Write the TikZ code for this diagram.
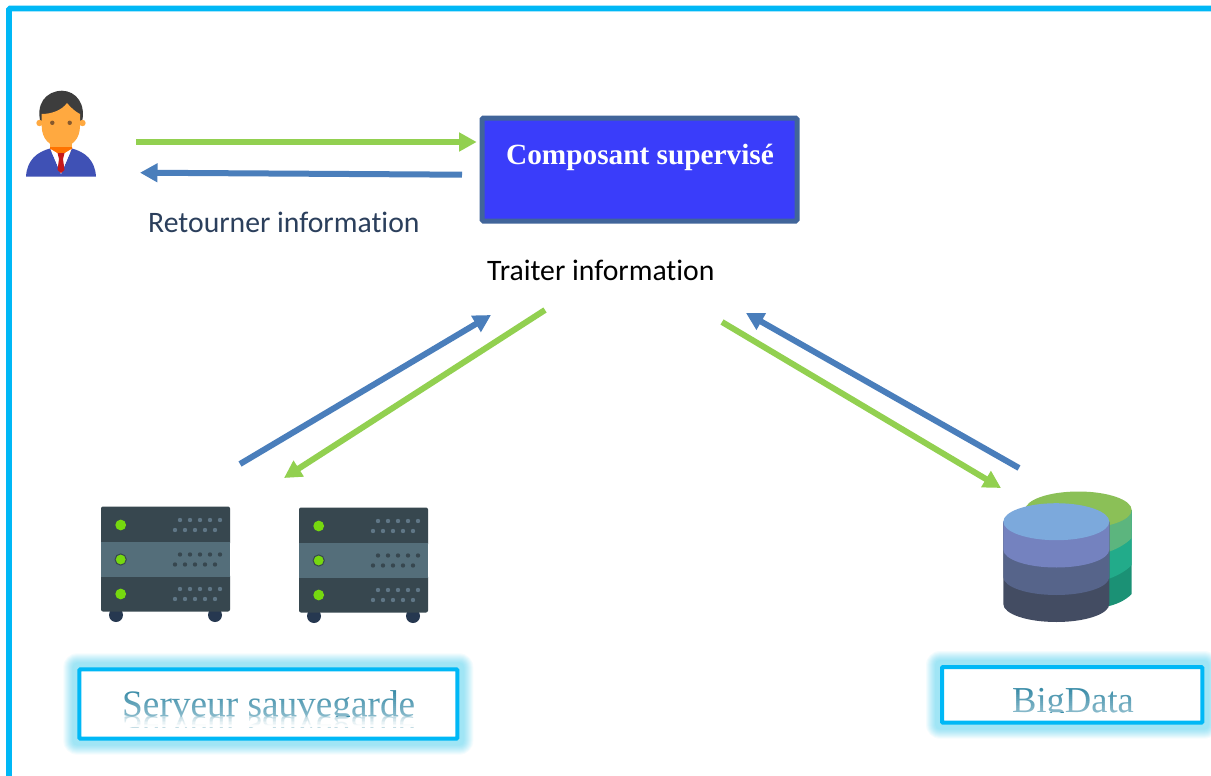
\documentclass[tikz,border=0pt]{standalone}
\usepackage{fontspec}
\setmainfont{Liberation Serif}
\newfontfamily\labelfont[RawFeature={-liga}]{Carlito}
\usetikzlibrary{arrows.meta}
\definecolor{framecyan}{HTML}{00B8F6}
\definecolor{glowcyan}{HTML}{00C0F4}
\definecolor{arrgreen}{HTML}{92D050}
\definecolor{arrblue}{HTML}{4A7EBB}
\definecolor{srvdark}{HTML}{37474F}
\definecolor{srvmid}{HTML}{546E7A}
\definecolor{srvdot}{HTML}{5F7686}
\definecolor{srvfoot}{HTML}{263850}
\definecolor{ledgreen}{HTML}{76D80F}
\definecolor{wordteal}{HTML}{3A8CA8}
\tikzset{
  x=1pt,y=-1pt,
  flow/.style={line width=6pt,-{Triangle[length=17.5pt,width=18pt]}},
  greenflow/.style={flow,draw=arrgreen},
  blueflow/.style={flow,draw=arrblue},
  tagbox/.style={draw=framecyan,line width=4pt,fill=white,inner sep=0pt,outer sep=0pt,anchor=north west,rounded corners=1pt},
  tagword/.style={anchor=base west,inner sep=0pt,text=wordteal},
  caption/.style={anchor=base west,inner sep=0pt,font=\labelfont\fontsize{29.7}{32}\selectfont},
}
\newcommand{\glowbox}[4]{%
  \foreach \g in {14,13,...,5}
    \fill[glowcyan,opacity=0.042,rounded corners=\g pt] (#1-\g,#2-\g) rectangle (#3+\g,#4+\g);
}
\newcommand{\fadeover}[6]{%
  \foreach \s in {0,1,...,#5}
    \fill[white,opacity={#6*\s/#5}] (#1,{#2+(#4-#2)*\s/(#5+1)}) rectangle (#3,{#2+(#4-#2)*(\s+1)/(#5+1)});
}
\newcommand{\dotrows}[3]{%
  \foreach \d in {0,1,2,3,4} {
    \fill[#3] (180+10*\d,#1) circle (2.2);
    \fill[#3] (175+10*\d,#2) circle (2.2);
  }
}
\newcommand{\rack}[2]{%
  \begin{scope}[shift={(#1,#2)}]
    \fill[srvfoot] (116,615) circle (7);
    \fill[srvfoot] (215,615) circle (7);
    \fill[srvdark,rounded corners=2pt] (101,506.5) rectangle (230,545);
    \fill[srvdark,rounded corners=2pt] (101,574) rectangle (230,611.5);
    \fill[srvmid] (101,542) rectangle (230,577);
    \fill[ledgreen] (120.7,525) circle (5.4);
    \fill[ledgreen,draw=srvdark,line width=1pt] (120.7,559.5) circle (5.6);
    \fill[ledgreen] (120.7,594) circle (5.4);
    \dotrows{520}{530}{srvdot}
    \dotrows{554.5}{564.5}{srvdark}
    \dotrows{589}{599}{srvdot}
  \end{scope}
}
\definecolor{skin}{HTML}{FFA940}
\definecolor{suit}{HTML}{3F51B5}
\definecolor{dbga}{HTML}{8BC057}
\definecolor{dbgb}{HTML}{5CB57E}
\definecolor{dbgc}{HTML}{22AB8A}
\definecolor{dbgd}{HTML}{1B9175}
\definecolor{dbba}{HTML}{7CA9DC}
\definecolor{dbbb}{HTML}{7482BF}
\definecolor{dbbc}{HTML}{56648A}
\definecolor{dbbd}{HTML}{434C62}
\begin{document}
\begin{tikzpicture}
\useasboundingbox (0,0) rectangle (1211,776);
\fill[white] (0,0) rectangle (1211,776);
% outer frame
\draw[framecyan,line width=5.6pt,rounded corners=1pt] (9,776) -- (9,8.5) -- (1211,8.5);

% person
\fill[black!76] (41,124) .. controls (35,104) and (46,91) .. (62,90.7) .. controls (76,91) and (87,104) .. (81.5,124) -- cycle;
\fill[skin] (39.5,123) circle (3.2);
\fill[skin] (82.5,123) circle (3.2);
\fill[skin] (50,140) rectangle (72,152);
\fill[skin] (41.7,114) .. controls (52,114) and (62,110) .. (67,103) .. controls (71,108) and (76,112) .. (80,114)
  -- (80,126) .. controls (80,139) and (72,147) .. (61,147) .. controls (50,147) and (41.7,139) .. (41.7,126) -- cycle;
\fill[brown!70!black] (52.3,122.8) circle (2.2);
\fill[brown!70!black] (69.7,122.8) circle (2.2);
\fill[orange!90!red] (50,147) -- (72,147) -- (72,150) -- (61,157) -- (50,150) -- cycle;
\fill[suit] (26,176.6) .. controls (27,160) and (37,152) .. (50,148.5) -- (61,174) -- (72,148.5)
  .. controls (85,152) and (95,160) .. (96,176.6) -- cycle;
\fill[white] (50.5,149) -- (57,153) -- (65,153) -- (71.5,149) -- (61,174) -- cycle;
\fill[red!75!black!90] (57.5,153) -- (64.5,153) -- (63,159) -- (64.5,170) -- (61,173) -- (57.5,170) -- (59,159) -- cycle;

% main box
\node[draw={rgb,255:red,65;green,101;blue,154},line width=5pt,fill={rgb,255:red,58;green,61;blue,250},minimum width=315pt,minimum height=103pt,anchor=north west,inner sep=0pt,outer sep=0pt,rounded corners=1.5pt] (supervise) at (482,118) {};
\node[anchor=base,inner sep=0pt,text=white,font=\bfseries\fontsize{29.3}{32}\selectfont] (supervisetext) at (640,164.3) {Composant supervisé};

% labels
\node[caption,text={rgb,255:red,43;green,63;blue,92}] (retourner) at (148,232.6) {Retourner information};
\node[caption,text=black] (traiter) at (487,280.6) {Traiter information};

% arrow endpoints
\coordinate (g1a) at (136,142); \coordinate (g1b) at (476.7,142);
\coordinate (b1a) at (462,174.7); \coordinate (b1b) at (140,172.7);
\coordinate (b2a) at (240,464); \coordinate (b2b) at (491,315);
\coordinate (g2a) at (545,310); \coordinate (g2b) at (284,478);
\coordinate (b3a) at (1019,468); \coordinate (b3b) at (746,313);
\coordinate (g3a) at (722,322); \coordinate (g3b) at (1001,488);
\draw[greenflow] (g1a) -- (g1b);
\draw[blueflow] (b1a) -- (b1b);
\draw[blueflow] (b2a) -- (b2b);
\draw[greenflow] (g2a) -- (g2b);
\draw[blueflow] (b3a) -- (b3b);
\draw[greenflow] (g3a) -- (g3b);

% servers
\rack{0}{0}
\rack{198}{1}

% database, rear stack
\fill[dbgd] (1025,510) -- (1131.7,510) -- (1131.7,594) .. controls (1125,601) and (1115,605) .. (1105,607) -- (1025,607) -- cycle;
\fill[dbgc] (1025,510) -- (1131.7,510) -- (1131.7,565) .. controls (1125,572) and (1115,577) .. (1105,580) -- (1025,580) -- cycle;
\fill[dbgb] (1025,510) -- (1131.7,510) -- (1131.7,538) .. controls (1125,545) and (1115,550) .. (1105,553) -- (1025,553) -- cycle;
\fill[dbga] (1078.4,510) ellipse [x radius=53.3,y radius=18.5];
% database, front stack
\fill[dbbd] (1003.3,521.7) -- (1109.3,521.7) -- (1109.3,604) arc [start angle=0,end angle=180,x radius=53,y radius=18] -- cycle;
\fill[dbbc] (1003.3,521.7) -- (1109.3,521.7) -- (1109.3,577) arc [start angle=0,end angle=180,x radius=53,y radius=18] -- cycle;
\fill[dbbb] (1003.3,521.7) -- (1109.3,521.7) -- (1109.3,549.5) arc [start angle=0,end angle=180,x radius=53,y radius=18] -- cycle;
\fill[dbba] (1056.3,521.7) ellipse [x radius=53,y radius=18.5];

% tag boxes
\glowbox{77.3}{667.3}{459.3}{740.7}
\node[tagbox,minimum width=378pt,minimum height=69.4pt] (serveurbox) at (79.3,669.3) {};
\begin{scope}
  \clip (90,680) rectangle (450,716);
  \node[tagword,font=\fontsize{37.3}{42}\selectfont] (serveurword) at (122,716) {Serveur sauvegarde};
\end{scope}
\fadeover{118}{690}{420}{716}{12}{0.38}
\begin{scope}
  \clip (90,716) rectangle (450,727);
  \node[tagword,opacity=0.3,font=\fontsize{37.3}{42}\selectfont] (serveurmirror) at (122,716) {\scalebox{1}[-1]{Serveur sauvegarde}};
\end{scope}
\fadeover{118}{716}{420}{727}{6}{0.95}

\glowbox{940}{665}{1204.3}{724.7}
\node[tagbox,minimum width=260.3pt,minimum height=55.7pt] (bigbox) at (942,667) {};
\begin{scope}
  \clip (950,675) rectangle (1195,712);
  \node[tagword,font=\fontsize{36.5}{40}\selectfont] (bigword) at (1012,712) {BigData};
\end{scope}
\fadeover{1005}{688}{1140}{712}{12}{0.38}
\end{tikzpicture}
\end{document}
